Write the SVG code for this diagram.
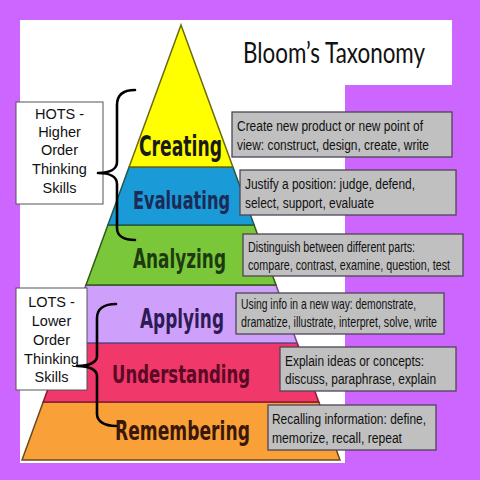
<svg xmlns="http://www.w3.org/2000/svg" width="480" height="480" viewBox="0 0 480 480">
<style>
.lvl{font-family:'DejaVu Sans Condensed','DejaVu Sans',sans-serif;font-weight:bold;}
.box{fill:#c0c0c0;stroke:#4e4458;stroke-width:1.3;}
.bt{font-family:'Liberation Sans',Arial,sans-serif;fill:#111;}
.side{fill:#fff;stroke:#555;stroke-width:1;}
.st{font-family:'Liberation Sans',Arial,sans-serif;font-size:14.5px;fill:#111;text-anchor:middle;}
.brace{fill:none;stroke:#000;stroke-width:2.6;stroke-linecap:round;stroke-linejoin:round;}
</style>
<rect x="0" y="0" width="480" height="480" fill="#cc66ff"/>
<polygon points="20,20 452,20 452,85 345,85 345,463 20,463" fill="#ffffff"/>
<text x="243" y="63" font-family="Lato,'Open Sans',sans-serif" font-size="28" fill="#111" textLength="182" lengthAdjust="spacingAndGlyphs">Bloom’s Taxonomy</text>

<g id="layer-remembering">
<polygon points="43.2,402 318.8,402 340,460 22,460" fill="#f9a038" stroke="#6b4a1a" stroke-width="1.5"/>
<text class="lvl" transform="translate(115,440) scale(0.78,1)" font-size="27" fill="#3a1808" textLength="173" lengthAdjust="spacingAndGlyphs">Remembering</text>
</g>
<g id="layer-understanding">
<polygon points="64.8,343 297.2,343 318.8,402 43.2,402" fill="#f0386b" stroke="#8a1a35" stroke-width="1.5"/>
<text class="lvl" transform="translate(112,383) scale(0.78,1)" font-size="25" fill="#5a0a25" textLength="177" lengthAdjust="spacingAndGlyphs">Understanding</text>
</g>
<g id="layer-applying">
<polygon points="86,285 276,285 297.2,343 64.8,343" fill="#cfa0fb" stroke="#6a4a8a" stroke-width="1.5"/>
<text class="lvl" transform="translate(140,328) scale(0.78,1)" font-size="27" fill="#2e1a55" textLength="107.7" lengthAdjust="spacingAndGlyphs">Applying</text>
</g>
<g id="layer-analyzing">
<polygon points="107.9,225 254.1,225 276,285 86,285" fill="#7ac83a" stroke="#2f5a18" stroke-width="1.5"/>
<text class="lvl" transform="translate(133,268) scale(0.78,1)" font-size="26" fill="#1e3a10" textLength="119.2" lengthAdjust="spacingAndGlyphs">Analyzing</text>
</g>
<g id="layer-evaluating">
<polygon points="129.1,167 232.9,167 254.1,225 107.9,225" fill="#1a9ad6" stroke="#1f5a4a" stroke-width="1.5"/>
<text class="lvl" transform="translate(133,209) scale(0.78,1)" font-size="25" fill="#1c2a55" textLength="124.4" lengthAdjust="spacingAndGlyphs">Evaluating</text>
</g>
<g id="layer-creating">
<polygon points="181,25 232.9,167 129.1,167" fill="#ffff00" stroke="#6b6b10" stroke-width="1.5"/>
<text class="lvl" transform="translate(139,156) scale(0.78,1)" font-size="28" fill="#1a1a1a" textLength="106.4" lengthAdjust="spacingAndGlyphs">Creating</text>
</g>

<g id="desc-creating">
<rect class="box" x="232" y="112" width="220" height="45"/>
<text class="bt" transform="translate(237,131) scale(0.8,1)" font-size="15.5" textLength="232.5" lengthAdjust="spacingAndGlyphs">Create new product or new point of</text>
<text class="bt" transform="translate(237,150) scale(0.8,1)" font-size="15.5" textLength="240" lengthAdjust="spacingAndGlyphs">view: construct, design, create, write</text>
</g>
<g id="desc-evaluating">
<rect class="box" x="240" y="170" width="216" height="45"/>
<text class="bt" transform="translate(245,189) scale(0.8,1)" font-size="15.5" textLength="212.5" lengthAdjust="spacingAndGlyphs">Justify a position: judge, defend,</text>
<text class="bt" transform="translate(245,208) scale(0.8,1)" font-size="15.5" textLength="161.3" lengthAdjust="spacingAndGlyphs">select, support, evaluate</text>
</g>
<g id="desc-analyzing">
<rect class="box" x="243" y="234" width="220" height="42"/>
<text class="bt" transform="translate(248,252) scale(0.8,1)" font-size="14.5" textLength="208.8" lengthAdjust="spacingAndGlyphs">Distinguish between different parts:</text>
<text class="bt" transform="translate(248,270) scale(0.8,1)" font-size="14.5" textLength="252.5" lengthAdjust="spacingAndGlyphs">compare, contrast, examine, question, test</text>
</g>
<g id="desc-applying">
<rect class="box" x="236" y="293" width="208" height="41"/>
<text class="bt" transform="translate(241,309) scale(0.8,1)" font-size="14.5" textLength="218.8" lengthAdjust="spacingAndGlyphs">Using info in a new way: demonstrate,</text>
<text class="bt" transform="translate(241,327) scale(0.8,1)" font-size="14.5" textLength="245" lengthAdjust="spacingAndGlyphs">dramatize, illustrate, interpret, solve, write</text>
</g>
<g id="desc-understanding">
<rect class="box" x="280" y="347" width="176" height="44"/>
<text class="bt" transform="translate(285,366) scale(0.8,1)" font-size="15.5" textLength="173.8" lengthAdjust="spacingAndGlyphs">Explain ideas or concepts:</text>
<text class="bt" transform="translate(285,384) scale(0.8,1)" font-size="15.5" textLength="188.8" lengthAdjust="spacingAndGlyphs">discuss, paraphrase, explain</text>
</g>
<g id="desc-remembering">
<rect class="box" x="268" y="405" width="168" height="45"/>
<text class="bt" transform="translate(272,424) scale(0.8,1)" font-size="15.5" textLength="192.5" lengthAdjust="spacingAndGlyphs">Recalling information: define,</text>
<text class="bt" transform="translate(272,443) scale(0.8,1)" font-size="15.5" textLength="162.5" lengthAdjust="spacingAndGlyphs">memorize, recall, repeat</text>
</g>

<g id="hots">
<rect class="side" x="16" y="102" width="87" height="102"/>
<text class="st" x="59.5" y="119">HOTS -</text>
<text class="st" x="59.5" y="137">Higher</text>
<text class="st" x="59.5" y="155">Order</text>
<text class="st" x="59.5" y="174">Thinking</text>
<text class="st" x="59.5" y="193">Skills</text>
</g>
<g id="lots">
<rect class="side" x="16" y="288" width="71" height="102"/>
<text class="st" x="51.5" y="307">LOTS -</text>
<text class="st" x="51.5" y="326">Lower</text>
<text class="st" x="51.5" y="345">Order</text>
<text class="st" x="51.5" y="364">Thinking</text>
<text class="st" x="51.5" y="382">Skills</text>
</g>

<g id="connectors">
<path class="brace" d="M135,90 C124,90 117,94 117,105 L117,162 C117,169 110,173 98,173 C110,173 117,177 117,184 L117,228 C117,236 124,240 135,240"/>
<path class="brace" d="M116,304 C104,304 97,309 97,318 L97,356 C97,362 90,366 77,366 C90,366 97,370 97,376 L97,414 C97,421 104,426 116,426"/>
</g>
</svg>
